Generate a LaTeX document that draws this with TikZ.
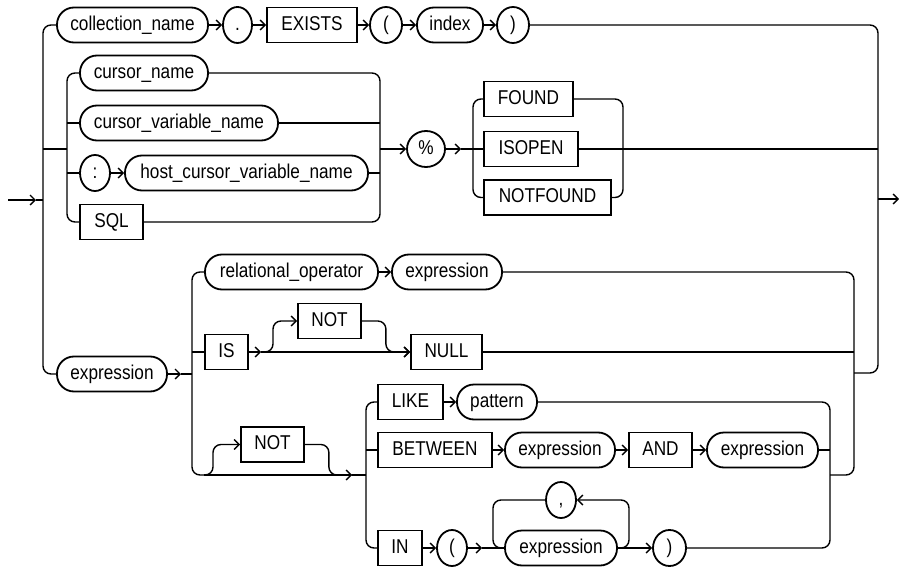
\documentclass[tikz,border=0pt]{standalone}
\usepackage{fontspec}
\newfontfamily\rrfont{Liberation Sans}[FakeStretch=0.86]
\usepackage{tikz}
\usetikzlibrary{arrows.meta, shapes.geometric}
\newcommand{\rrtext}{\rrfont\fontsize{20}{24}\selectfont}

\begin{document}
\begin{tikzpicture}[
    x=1pt, y=-1pt, line width=1.4pt,
    nt/.style={draw, rectangle, rounded corners=17pt, minimum height=35pt,
               inner sep=0pt, text height=14.5pt, text depth=4pt,
               line width=1.8pt, font=\rrtext},
    kw/.style={draw, rectangle, minimum height=35pt,
               inner sep=0pt, text height=14.5pt, text depth=4pt,
               line width=1.8pt, font=\rrtext},
    sym/.style={draw, ellipse, minimum height=36pt,
                inner sep=0pt, text height=14.5pt, text depth=4pt,
                line width=1.8pt, font=\rrtext},
    rail/.style={rounded corners=8pt},
    >={Straight Barb[length=5pt,width=10pt]}
  ]
    \useasboundingbox (0,0) rectangle (899,567);

    \node[nt, minimum width=151] (colname) at (132.5,25) {collection\_name};
    \node[sym, minimum width=29] (dot) at (237.5,25) {.};
    \node[kw, minimum width=90] (exists) at (312,25) {EXISTS};
    \node[sym, minimum width=32] (lpar) at (386,25) {(};
    \node[nt, minimum width=66] (index) at (450,25) {index};
    \node[sym, minimum width=32] (rpar) at (513,25) {)};

    \node[nt, minimum width=128] (curname) at (144,73) {cursor\_name};
    \node[nt, minimum width=198] (curvar) at (179,123) {cursor\_variable\_name};
    \node[sym, minimum width=30] (colon) at (95,173) {:};
    \node[nt, minimum width=243] (hostvar) at (246.5,173) {host\_cursor\_variable\_name};
    \node[kw, minimum width=63] (sql) at (111.5,222) {SQL};
    \node[sym, minimum width=38] (pct) at (426,149) {\%};
    \node[kw, minimum width=89] (found) at (528.5,99) {FOUND};
    \node[kw, minimum width=94] (isopen) at (531,149) {ISOPEN};
    \node[kw, minimum width=127] (notfound) at (547.5,197.5) {NOTFOUND};

    \node[nt, minimum width=110] (expr0) at (112,374) {expression};
    \node[nt, minimum width=173] (relop) at (291.5,272) {relational\_operator};
    \node[nt, minimum width=110] (expr1) at (447,272) {expression};
    \node[kw, minimum width=43] (iskw) at (226.5,352) {IS};
    \node[kw, minimum width=63] (notA) at (329.5,321) {NOT};
    \node[kw, minimum width=71] (nullkw) at (446.5,352) {NULL};
    \node[kw, minimum width=63] (notB) at (272.5,444.5) {NOT};
    \node[kw, minimum width=65] (like) at (410.5,402) {LIKE};
    \node[nt, minimum width=80] (pattern) at (497,402) {pattern};
    \node[kw, minimum width=114] (between) at (435,450) {BETWEEN};
    \node[nt, minimum width=110] (expr2) at (560,450) {expression};
    \node[kw, minimum width=63] (andkw) at (660.5,450) {AND};
    \node[nt, minimum width=111] (expr3) at (762.5,450) {expression};
    \node[kw, minimum width=44] (inkw) at (400,548) {IN};
    \node[sym, minimum width=30] (lparB) at (452,548) {(};
    \node[sym, minimum width=30] (comma) at (561,500) {,};
    \node[nt, minimum width=112] (expr4) at (561,548) {expression};
    \node[sym, minimum width=33] (rparB) at (669.5,548) {)};

    \coordinate (start) at (8,200);
    \coordinate (startA) at (36,200);
    \coordinate (railL) at (43,200);
    \coordinate (railR) at (878,199);
    \coordinate (finish) at (899,199);
    \coordinate (curL) at (67,149);
    \coordinate (curR) at (380,149);
    \coordinate (pctA) at (461,149);
    \coordinate (attrL) at (473,149);
    \coordinate (attrR) at (623,149);
    \coordinate (exprA) at (181,374);
    \coordinate (exL) at (192,374);
    \coordinate (exB) at (204,475);
    \coordinate (exR) at (854,373);
    \coordinate (isA) at (261,352);
    \coordinate (likeA) at (352,475);
    \coordinate (likeL) at (366,475);
    \coordinate (likeR) at (830,475);
    \coordinate (lparA) at (482,548);
    \coordinate (loopL) at (493,548);
    \coordinate (loopR) at (629,548);

    \draw[->] (start) -- (startA);
    \draw (startA) -- (railL);
    \draw[rail] (colname.west) -| (railL) |- (expr0.west);
    \draw[->] (colname) -- (dot);
    \draw[->] (dot) -- (exists);
    \draw[->] (exists) -- (lpar);
    \draw[->] (lpar) -- (index);
    \draw[->] (index) -- (rpar);
    \draw[rail] (rpar.east) -| (railR) |- (exR);
    \draw[->] (railR) -- (finish);

    \draw (railL |- curL) -- (curL);
    \draw[rail] (curname.west) -| (curL) |- (sql.west);
    \draw (curL |- curvar) -- (curvar.west);
    \draw (curL |- colon) -- (colon.west);
    \draw[->] (colon) -- (hostvar);
    \draw[rail] (curname.east) -| (curR) |- (sql.east);
    \draw (curvar.east) -- (curR |- curvar);
    \draw (hostvar.east) -- (curR |- hostvar);
    \draw[->] (curR) -- (pct);
    \draw[->] (pct) -- (pctA);
    \draw (pctA) -- (attrL);
    \draw[rail] (found.west) -| (attrL) |- (notfound.west);
    \draw (attrL) -- (isopen.west);
    \draw[rail] (found.east) -| (attrR) |- (notfound.east);
    \draw (isopen.east) -- (railR |- isopen);

    \draw[->] (expr0) -- (exprA);
    \draw (exprA) -- (exL);
    \draw[rail] (relop.west) -| (exL) |- (exB);
    \draw (exL |- iskw) -- (iskw.west);
    \draw[->] (relop) -- (expr1);
    \draw[rail] (expr1.east) -| (exR) |- (likeR);
    \draw (nullkw.east) -- (exR |- nullkw);
    \draw[->] (iskw) -- (isA);
    \draw[->] (isA) -- (nullkw);
    \draw[rail, ->] (isA) -- ++(12,0) |- (notA.west);
    \draw[rail, ->] (notA.east) -- ++(24,0) |- (nullkw.west);

    \draw[->] (exB) -- (likeA);
    \draw (likeA) -- (likeL);
    \draw[rail, ->] (exB) -- ++(9,0) |- (notB.west);
    \draw[rail] (notB.east) -- ++(24,0) |- (likeA);
    \draw[rail] (like.west) -| (likeL) |- (inkw.west);
    \draw (likeL |- between) -- (between.west);
    \draw[->] (like) -- (pattern);
    \draw[->] (between) -- (expr2);
    \draw[->] (expr2) -- (andkw);
    \draw[->] (andkw) -- (expr3);
    \draw[->] (inkw) -- (lparB);
    \draw[rail] (pattern.east) -| (likeR) |- (rparB.east);
    \draw (expr3.east) -- (likeR |- expr3);

    \draw[->] (lparB) -- (lparA);
    \draw (lparA) -- (expr4);
    \draw[rail] (comma.west) -| (loopL) -- (expr4.west);
    \draw[rail, ->] (expr4.east) -- (loopR) |- (comma.east);
    \draw[->] (expr4) -- (rparB);
  \end{tikzpicture}
\end{document}
